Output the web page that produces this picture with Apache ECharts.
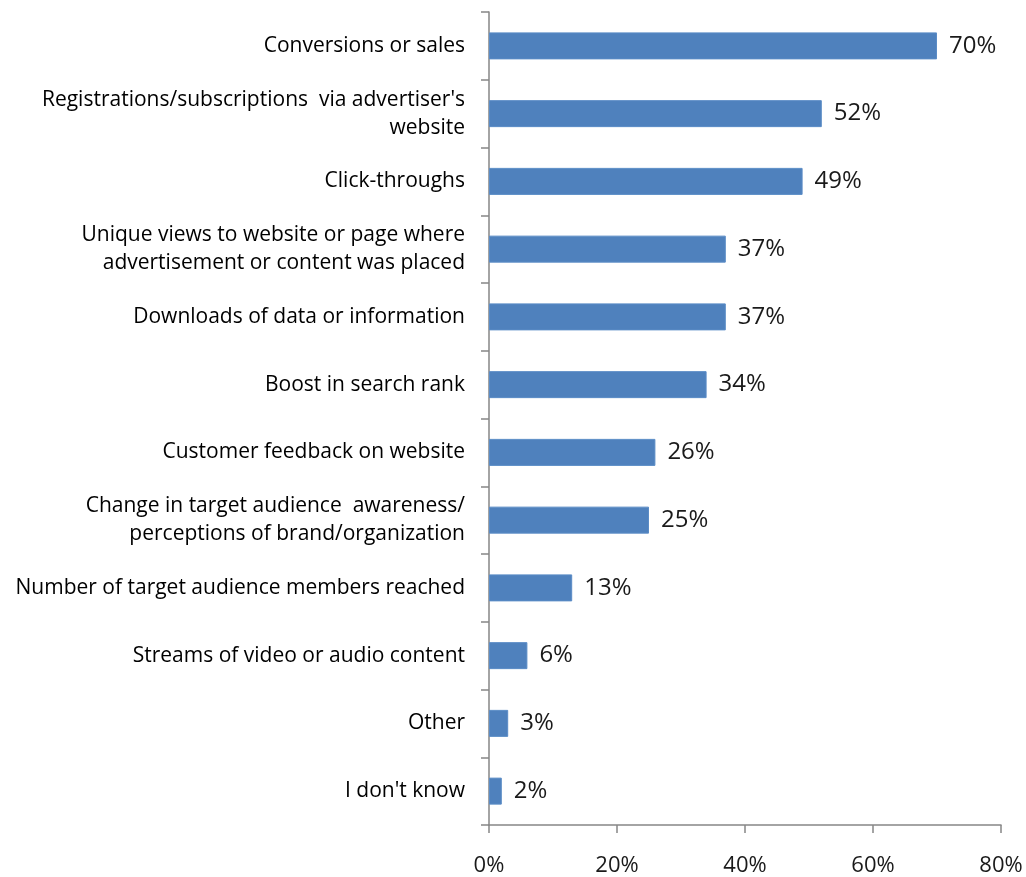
<!DOCTYPE html>
<html>
<head>
<meta charset="utf-8">
<script src="https://cdn.jsdelivr.net/npm/echarts@6/dist/echarts.min.js"></script>
<style>
  html, body { margin: 0; padding: 0; background: #ffffff; }
  #chart { width: 1026px; height: 877px; }
</style>
</head>
<body>
<div id="chart"></div>
<script>
// Survey answers, listed top to bottom
const categories = [
  "Conversions or sales",
  "Registrations/subscriptions  via advertiser's\nwebsite",
  "Click-throughs",
  "Unique views to website or page where\nadvertisement or content was placed",
  "Downloads of data or information",
  "Boost in search rank",
  "Customer feedback on website",
  "Change in target audience  awareness/\nperceptions of brand/organization",
  "Number of target audience members reached",
  "Streams of video or audio content",
  "Other",
  "I don't know"
];
// Share of respondents, percent
const values = [70, 52, 49, 37, 37, 34, 26, 25, 13, 6, 3, 2];
// Horizontal axis ticks, percent
const xTicks = [0, 20, 40, 60, 80];

const FONT = "'Open Sans', Lato, sans-serif";

const chart = echarts.init(document.getElementById('chart'), null, { renderer: 'canvas' });
chart.setOption({
  animation: false,
  backgroundColor: '#ffffff',
  grid: { left: 489, right: 25, top: 12, bottom: 52, containLabel: false },
  xAxis: {
    type: 'value',
    min: xTicks[0],
    max: xTicks[xTicks.length - 1],
    interval: xTicks[1] - xTicks[0],
    axisLine: { show: true, lineStyle: { color: '#868686', width: 1.5 } },
    axisTick: { show: true, length: 8, lineStyle: { color: '#868686', width: 1.5 } },
    splitLine: { show: false },
    axisLabel: {
      formatter: v => v + '%',
      fontFamily: FONT, fontSize: 22, color: '#1a1a1a', margin: 30
    }
  },
  yAxis: {
    type: 'category',
    data: categories,
    inverse: true,
    axisLine: { show: true, lineStyle: { color: '#868686', width: 1.5 } },
    axisTick: { show: true, length: 8, lineStyle: { color: '#868686', width: 1.5 } },
    axisLabel: {
      fontFamily: FONT, fontSize: 21, color: '#000', margin: 24,
      lineHeight: 28, align: 'right'
    }
  },
  series: [{
    type: 'bar',
    data: values,
    barWidth: 27,
    itemStyle: { color: '#4F81BD', borderColor: '#5B8CC6', borderWidth: 1 },
    label: {
      show: true, position: 'right', distance: 12,
      formatter: p => p.value + '%',
      fontFamily: FONT, fontSize: 24, color: '#1a1a1a'
    }
  }]
});
</script>
</body>
</html>
